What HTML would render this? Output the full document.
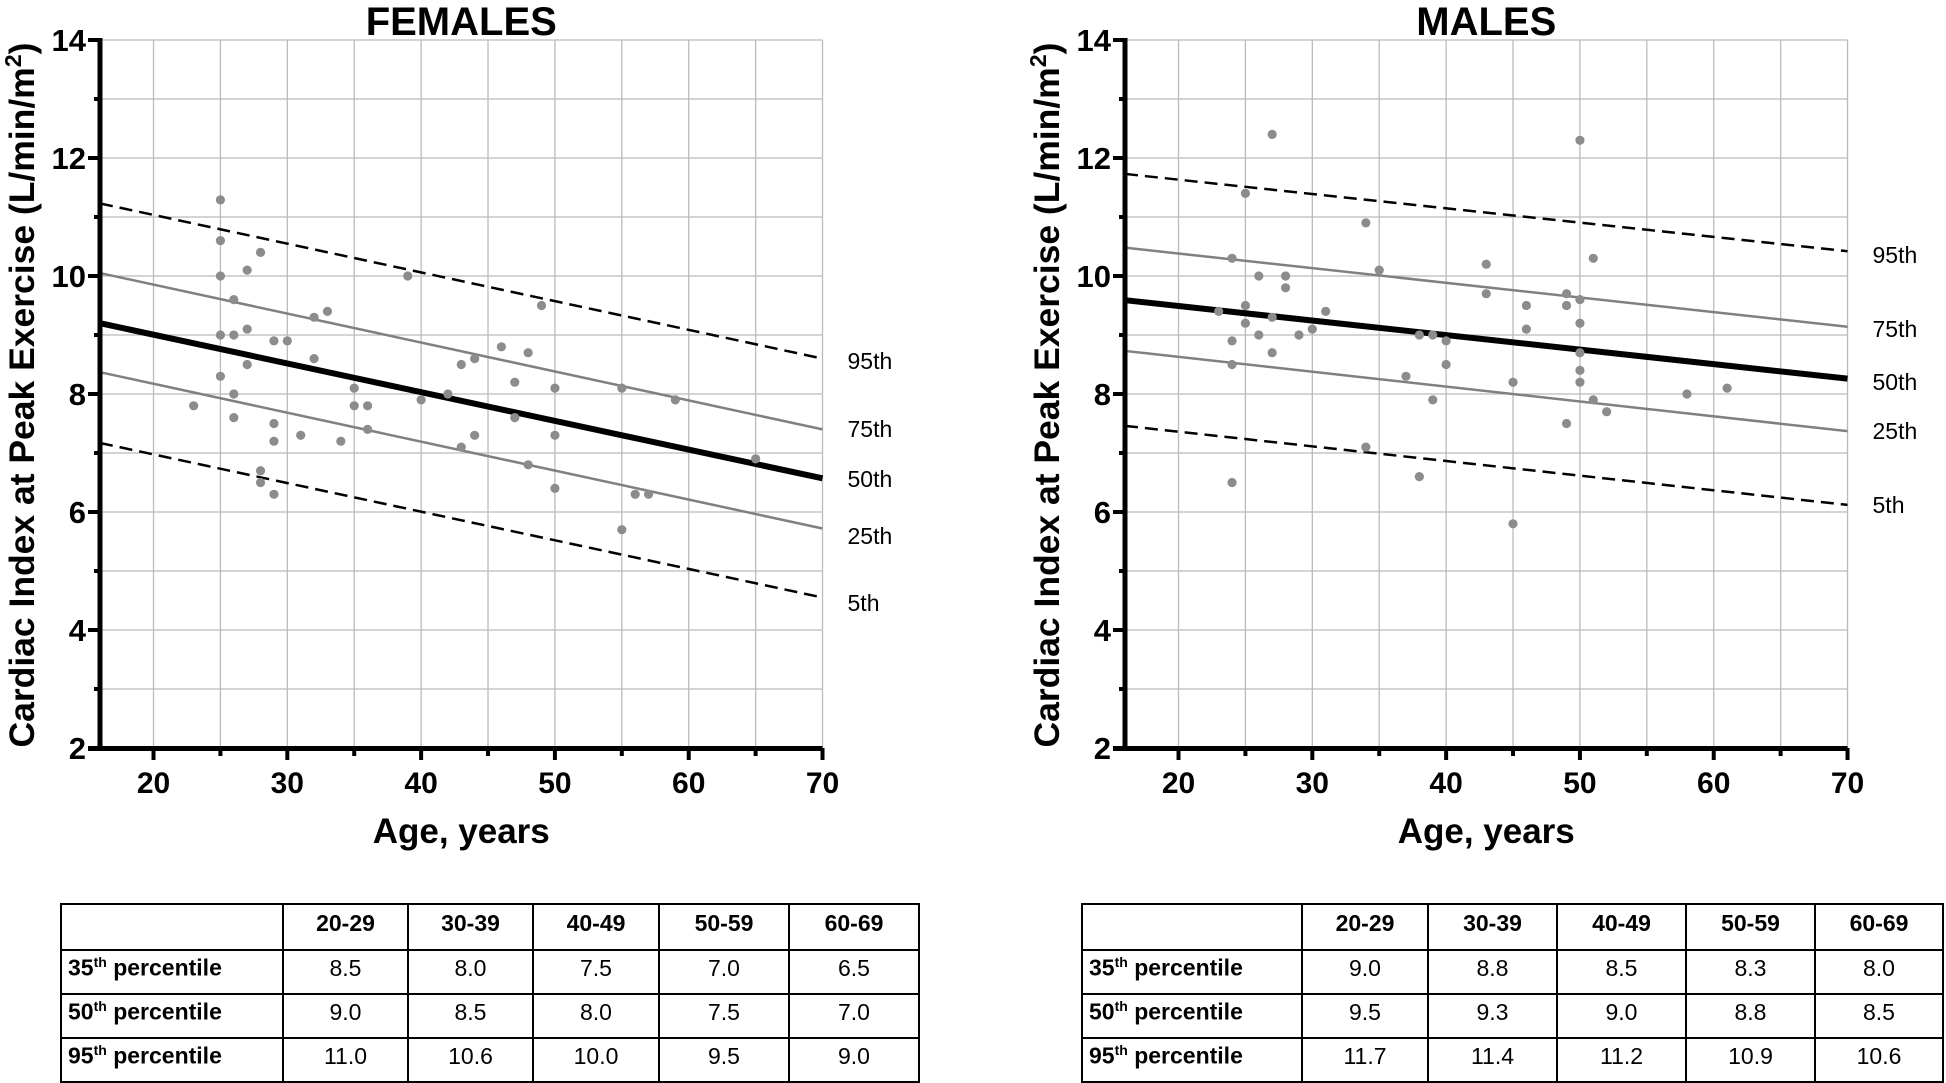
<!DOCTYPE html>
<html><head><meta charset="utf-8"><style>
html,body{margin:0;padding:0;background:#fff;}
body{width:1946px;height:1083px;position:relative;overflow:hidden;font-family:"Liberation Sans Narrow","Liberation Sans",sans-serif;}
svg{position:absolute;left:0;top:0;}
table{position:absolute;border-collapse:collapse;table-layout:fixed;font-family:"Liberation Sans Narrow","Liberation Sans",sans-serif;font-size:23px;}
td{border:2px solid #000;text-align:center;padding:0 0 8px 0;height:34px;}
tr:first-child td{height:36px;font-weight:bold;}
td:first-child{text-align:left;padding-left:6px;font-weight:bold;}
sup{font-size:14px;}
</style></head><body>
<svg id="s" width="1946" height="1083" xmlns="http://www.w3.org/2000/svg"></svg>
<table style="left:60px;top:903px;width:858px;">
<colgroup><col style="width:222px"><col style="width:125px"><col style="width:125px"><col style="width:126px"><col style="width:130px"><col style="width:130px"></colgroup>
<tr><td></td><td>20-29</td><td>30-39</td><td>40-49</td><td>50-59</td><td>60-69</td></tr>
<tr><td>35<sup>th</sup> percentile</td><td>8.5</td><td>8.0</td><td>7.5</td><td>7.0</td><td>6.5</td></tr>
<tr><td>50<sup>th</sup> percentile</td><td>9.0</td><td>8.5</td><td>8.0</td><td>7.5</td><td>7.0</td></tr>
<tr><td>95<sup>th</sup> percentile</td><td>11.0</td><td>10.6</td><td>10.0</td><td>9.5</td><td>9.0</td></tr>
</table>
<table style="left:1081px;top:903px;width:861px;">
<colgroup><col style="width:220px"><col style="width:126px"><col style="width:129px"><col style="width:129px"><col style="width:129px"><col style="width:128px"></colgroup>
<tr><td></td><td>20-29</td><td>30-39</td><td>40-49</td><td>50-59</td><td>60-69</td></tr>
<tr><td>35<sup>th</sup> percentile</td><td>9.0</td><td>8.8</td><td>8.5</td><td>8.3</td><td>8.0</td></tr>
<tr><td>50<sup>th</sup> percentile</td><td>9.5</td><td>9.3</td><td>9.0</td><td>8.8</td><td>8.5</td></tr>
<tr><td>95<sup>th</sup> percentile</td><td>11.7</td><td>11.4</td><td>11.2</td><td>10.9</td><td>10.6</td></tr>
</table>
<script>
var s=document.getElementById('s'),h='';
function panel(x0,title,lines,labs,pts){
 var X=function(a){return x0+(a-16)*13.38},Y=function(v){return 40+(14-v)*59};
 var i;
 for(i=20;i<=70;i+=5)h+='<line x1="'+X(i)+'" y1="40" x2="'+X(i)+'" y2="748" stroke="#bbb" stroke-width="1.3"/>';
 for(i=3;i<=14;i++)h+='<line x1="'+x0+'" y1="'+Y(i)+'" x2="'+X(70)+'" y2="'+Y(i)+'" stroke="#bbb" stroke-width="1.3"/>';
 lines.forEach(function(l){
  var st=l[2]==0?'stroke="#000" stroke-width="2.5" stroke-dasharray="13,7"':l[2]==1?'stroke="#808080" stroke-width="2.5"':'stroke="#000" stroke-width="6"';
  h+='<line x1="'+X(16)+'" y1="'+Y(l[0])+'" x2="'+X(70)+'" y2="'+Y(l[1])+'" '+st+'/>';
 });
 pts.forEach(function(p){h+='<circle cx="'+X(p[0])+'" cy="'+Y(p[1])+'" r="4.6" fill="#8c8c8c"/>';});
 h+='<line x1="'+x0+'" y1="38" x2="'+x0+'" y2="751" stroke="#000" stroke-width="5"/>';
 h+='<line x1="'+(x0-12)+'" y1="748.5" x2="'+X(70)+'" y2="748.5" stroke="#000" stroke-width="5"/>';
 for(i=2;i<=14;i++){var w=(i%2==0)?12:6;h+='<line x1="'+(x0-w)+'" y1="'+Y(i)+'" x2="'+x0+'" y2="'+Y(i)+'" stroke="#000" stroke-width="4"/>';
  if(i%2==0)h+='<text x="'+(x0-14)+'" y="'+(Y(i)+11)+'" text-anchor="end" font-size="31" font-weight="bold">'+i+'</text>';}
 for(i=20;i<=70;i+=5){var w=(i%10==0)?10:6;h+='<line x1="'+X(i)+'" y1="748" x2="'+X(i)+'" y2="'+(750+w)+'" stroke="#000" stroke-width="4"/>';
  if(i%10==0)h+='<text x="'+X(i)+'" y="793" text-anchor="middle" font-size="30" font-weight="bold">'+i+'</text>';}
 labs.forEach(function(l){h+='<text x="'+(X(70)+25)+'" y="'+(l[1]+8)+'" font-size="23" font-family="Liberation Sans,sans-serif">'+l[0]+'</text>';});
 h+='<text x="'+X(43)+'" y="35" text-anchor="middle" font-size="40" font-weight="bold">'+title+'</text>';
 h+='<text x="'+X(43)+'" y="843" text-anchor="middle" font-size="35" font-weight="bold">Age, years</text>';
 h+='<text transform="translate('+(x0-66)+',395) rotate(-90)" text-anchor="middle" font-size="35" font-weight="bold" textLength="705" lengthAdjust="spacingAndGlyphs">Cardiac Index at Peak Exercise (L/min/m<tspan dy="-13" font-size="23">2</tspan><tspan dy="13">)</tspan></text>';
}
panel(100,'FEMALES',[[11.23,8.6,0],[10.05,7.4,1],[9.2,6.57,2],[8.37,5.72,1],[7.17,4.55,0]],
 [['95th',361],['75th',429],['50th',479],['25th',536],['5th',603]],
 [[23,7.8],[25,11.29],[25,10.6],[25,10],[25,9],[25,8.3],[26,9.6],[26,9],[26,8],[26,7.6],[27,10.1],[27,9.1],[27,8.5],[28,10.4],[28,6.7],[28,6.5],[29,8.9],[29,7.5],[29,7.2],[29,6.3],[30,8.9],[31,7.3],[32,9.3],[32,8.6],[33,9.4],[34,7.2],[35,8.1],[35,7.8],[36,7.8],[36,7.4],[39,10],[40,7.9],[42,8],[43,8.5],[43,7.1],[44,8.6],[44,7.3],[46,8.8],[47,8.2],[47,7.6],[48,8.7],[48,6.8],[49,9.5],[50,8.1],[50,7.3],[50,6.4],[55,8.1],[55,5.7],[56,6.3],[57,6.3],[59,7.9],[65,6.9]]);
panel(1125,'MALES',[[11.73,10.42,0],[10.48,9.14,1],[9.59,8.26,2],[8.73,7.37,1],[7.46,6.12,0]],
 [['95th',255],['75th',329],['50th',382],['25th',431],['5th',505]],
 [[27,12.4],[50,12.3],[25,11.4],[34,10.9],[24,10.3],[51,10.3],[35,10.1],[43,10.2],[26,10],[28,10],[28,9.8],[43,9.7],[49,9.7],[23,9.4],[25,9.5],[27,9.3],[31,9.4],[46,9.5],[49,9.5],[50,9.6],[25,9.2],[50,9.2],[26,9],[29,9],[30,9.1],[46,9.1],[24,8.9],[38,9],[39,9],[40,8.9],[27,8.7],[50,8.7],[24,8.5],[40,8.5],[50,8.4],[37,8.3],[45,8.2],[50,8.2],[39,7.9],[51,7.9],[52,7.7],[58,8],[61,8.1],[49,7.5],[34,7.1],[38,6.6],[24,6.5],[45,5.8]]);
s.innerHTML=h;
</script>
</body></html>
